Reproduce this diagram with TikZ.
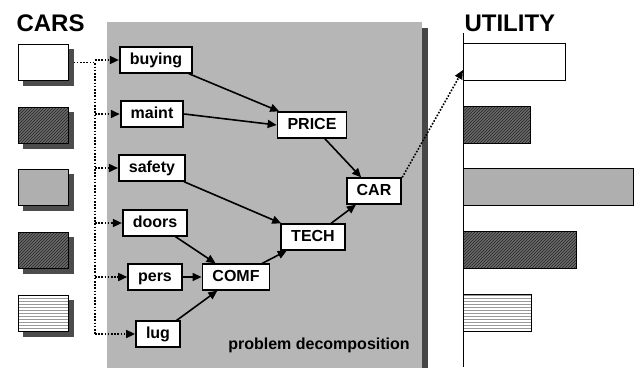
\documentclass[tikz,border=0pt]{standalone}
\usepackage{fontspec}
\setsansfont{Liberation Sans}
\usetikzlibrary{arrows.meta, positioning, patterns, backgrounds}
\definecolor{panelgray}{RGB}{182,182,182}
\definecolor{paneledge}{RGB}{70,70,70}
\definecolor{darkhatch}{RGB}{105,105,105}
\definecolor{lightspeck}{RGB}{175,175,175}

\begin{document}
\begin{tikzpicture}[x=1pt, y=-1pt,
    attr/.style={rectangle, draw, line width=1.8pt, fill=white, font=\sffamily\bfseries\fontsize{16}{18}\selectfont,
        inner xsep=10pt, inner ysep=5pt, text height=12pt, text depth=3.5pt},
    carbox/.style={rectangle, draw, line width=1pt, minimum width=50pt, minimum height=36pt},
    bar/.style={rectangle, draw, line width=1pt, minimum height=37pt, anchor=west},
    hatched/.style={preaction={fill=darkhatch}, pattern=north east lines, pattern color=black!85},
    speckled/.style={fill=lightspeck},
    printed/.style={preaction={fill=white}, pattern=horizontal lines, pattern color=black!40},
    title/.style={font=\sffamily\bfseries\fontsize{24}{28}\selectfont, anchor=west},
    arrow/.style={-{Triangle[length=9pt, width=8pt]}, line width=1.6pt},
    dotlink/.style={line width=1.8pt, dash pattern=on 1.6pt off 1.6pt}
]
    \useasboundingbox (0,0) rectangle (637,368);

    % Decomposition panel
    \fill[panelgray] (107,22) rectangle (422,368);
    \fill[paneledge] (422,28) rectangle (428,368);

    % Titles
    \node[title] (carstitle) at (13,23) {CARS};
    \node[title] (utiltitle) at (461,23) {UTILITY};

    % Cars
    \node[carbox, fill=white]  (car1) at (43,62.5) {};
    \node[carbox, hatched]     (car2) at (43,125) {};
    \node[carbox, speckled]    (car3) at (43,187.5) {};
    \node[carbox, hatched]     (car4) at (43,250) {};
    \node[carbox, printed]     (car5) at (43,313.5) {};
    \begin{scope}[on background layer]
        \foreach \c in {car1, car2, car3, car4, car5}
            \fill[black!70] ([shift={(5pt,-5pt)}]\c.south west) rectangle ([shift={(5pt,-5pt)}]\c.north east);
    \end{scope}

    % Attributes
    \node[attr] (buying) at (156,60)  {buying};
    \node[attr] (maint)  at (152,114) {maint};
    \node[attr] (safety) at (152,168) {safety};
    \node[attr] (doors)  at (155,223) {doors};
    \node[attr] (pers)   at (155,277) {pers};
    \node[attr] (lug)    at (158,334) {lug};

    % Aggregates
    \node[attr] (price) at (312,125) {PRICE};
    \node[attr] (tech)  at (313,237) {TECH};
    \node[attr] (comf)  at (236,277) {COMF};
    \node[attr] (car)   at (374,191) {CAR};

    \node[font=\sffamily\bfseries\fontsize{16}{18}\selectfont] (decomp) at (319,345) {problem decomposition};

    % Dotted feed from the cars
    \coordinate (trunk) at (95,62.5);
    \draw[dotlink] ([xshift=5pt]car1.east) -- (trunk) -- (lug -| trunk);
    \foreach \a in {buying, maint, safety, doors, pers, lug}
        \draw[dotlink, arrow] (\a -| trunk) -- (\a.west);

    % Hierarchy
    \draw[arrow] (buying) -- (price);
    \draw[arrow] (maint.east) -- (price.west);
    \draw[arrow] (safety) -- (tech);
    \draw[arrow] (doors) -- (comf);
    \draw[arrow] (pers) -- (comf);
    \draw[arrow] (lug) -- (comf);
    \draw[arrow] (comf) -- (tech);
    \draw[arrow] (tech) -- (car);
    \draw[arrow] (price) -- (car);

    % Utility axis and bars
    \coordinate (axistop) at (463,33);
    \coordinate (axisbot) at (463,367);
    \draw[line width=1pt] (axistop) -- (axisbot);
    \node[bar, fill=white, minimum width=102pt] (util1) at (463,62)  {};
    \node[bar, hatched,    minimum width=67pt]  (util2) at (463,125) {};
    \node[bar, speckled,   minimum width=170pt] (util3) at (463,187) {};
    \node[bar, hatched,    minimum width=113pt] (util4) at (463,250) {};
    \node[bar, printed,    minimum width=68pt]  (util5) at (463,313) {};

    % Result to utility
    \draw[dotlink, arrow] (car.north east) -- ([yshift=-8pt]util1.west);
\end{tikzpicture}
\end{document}
